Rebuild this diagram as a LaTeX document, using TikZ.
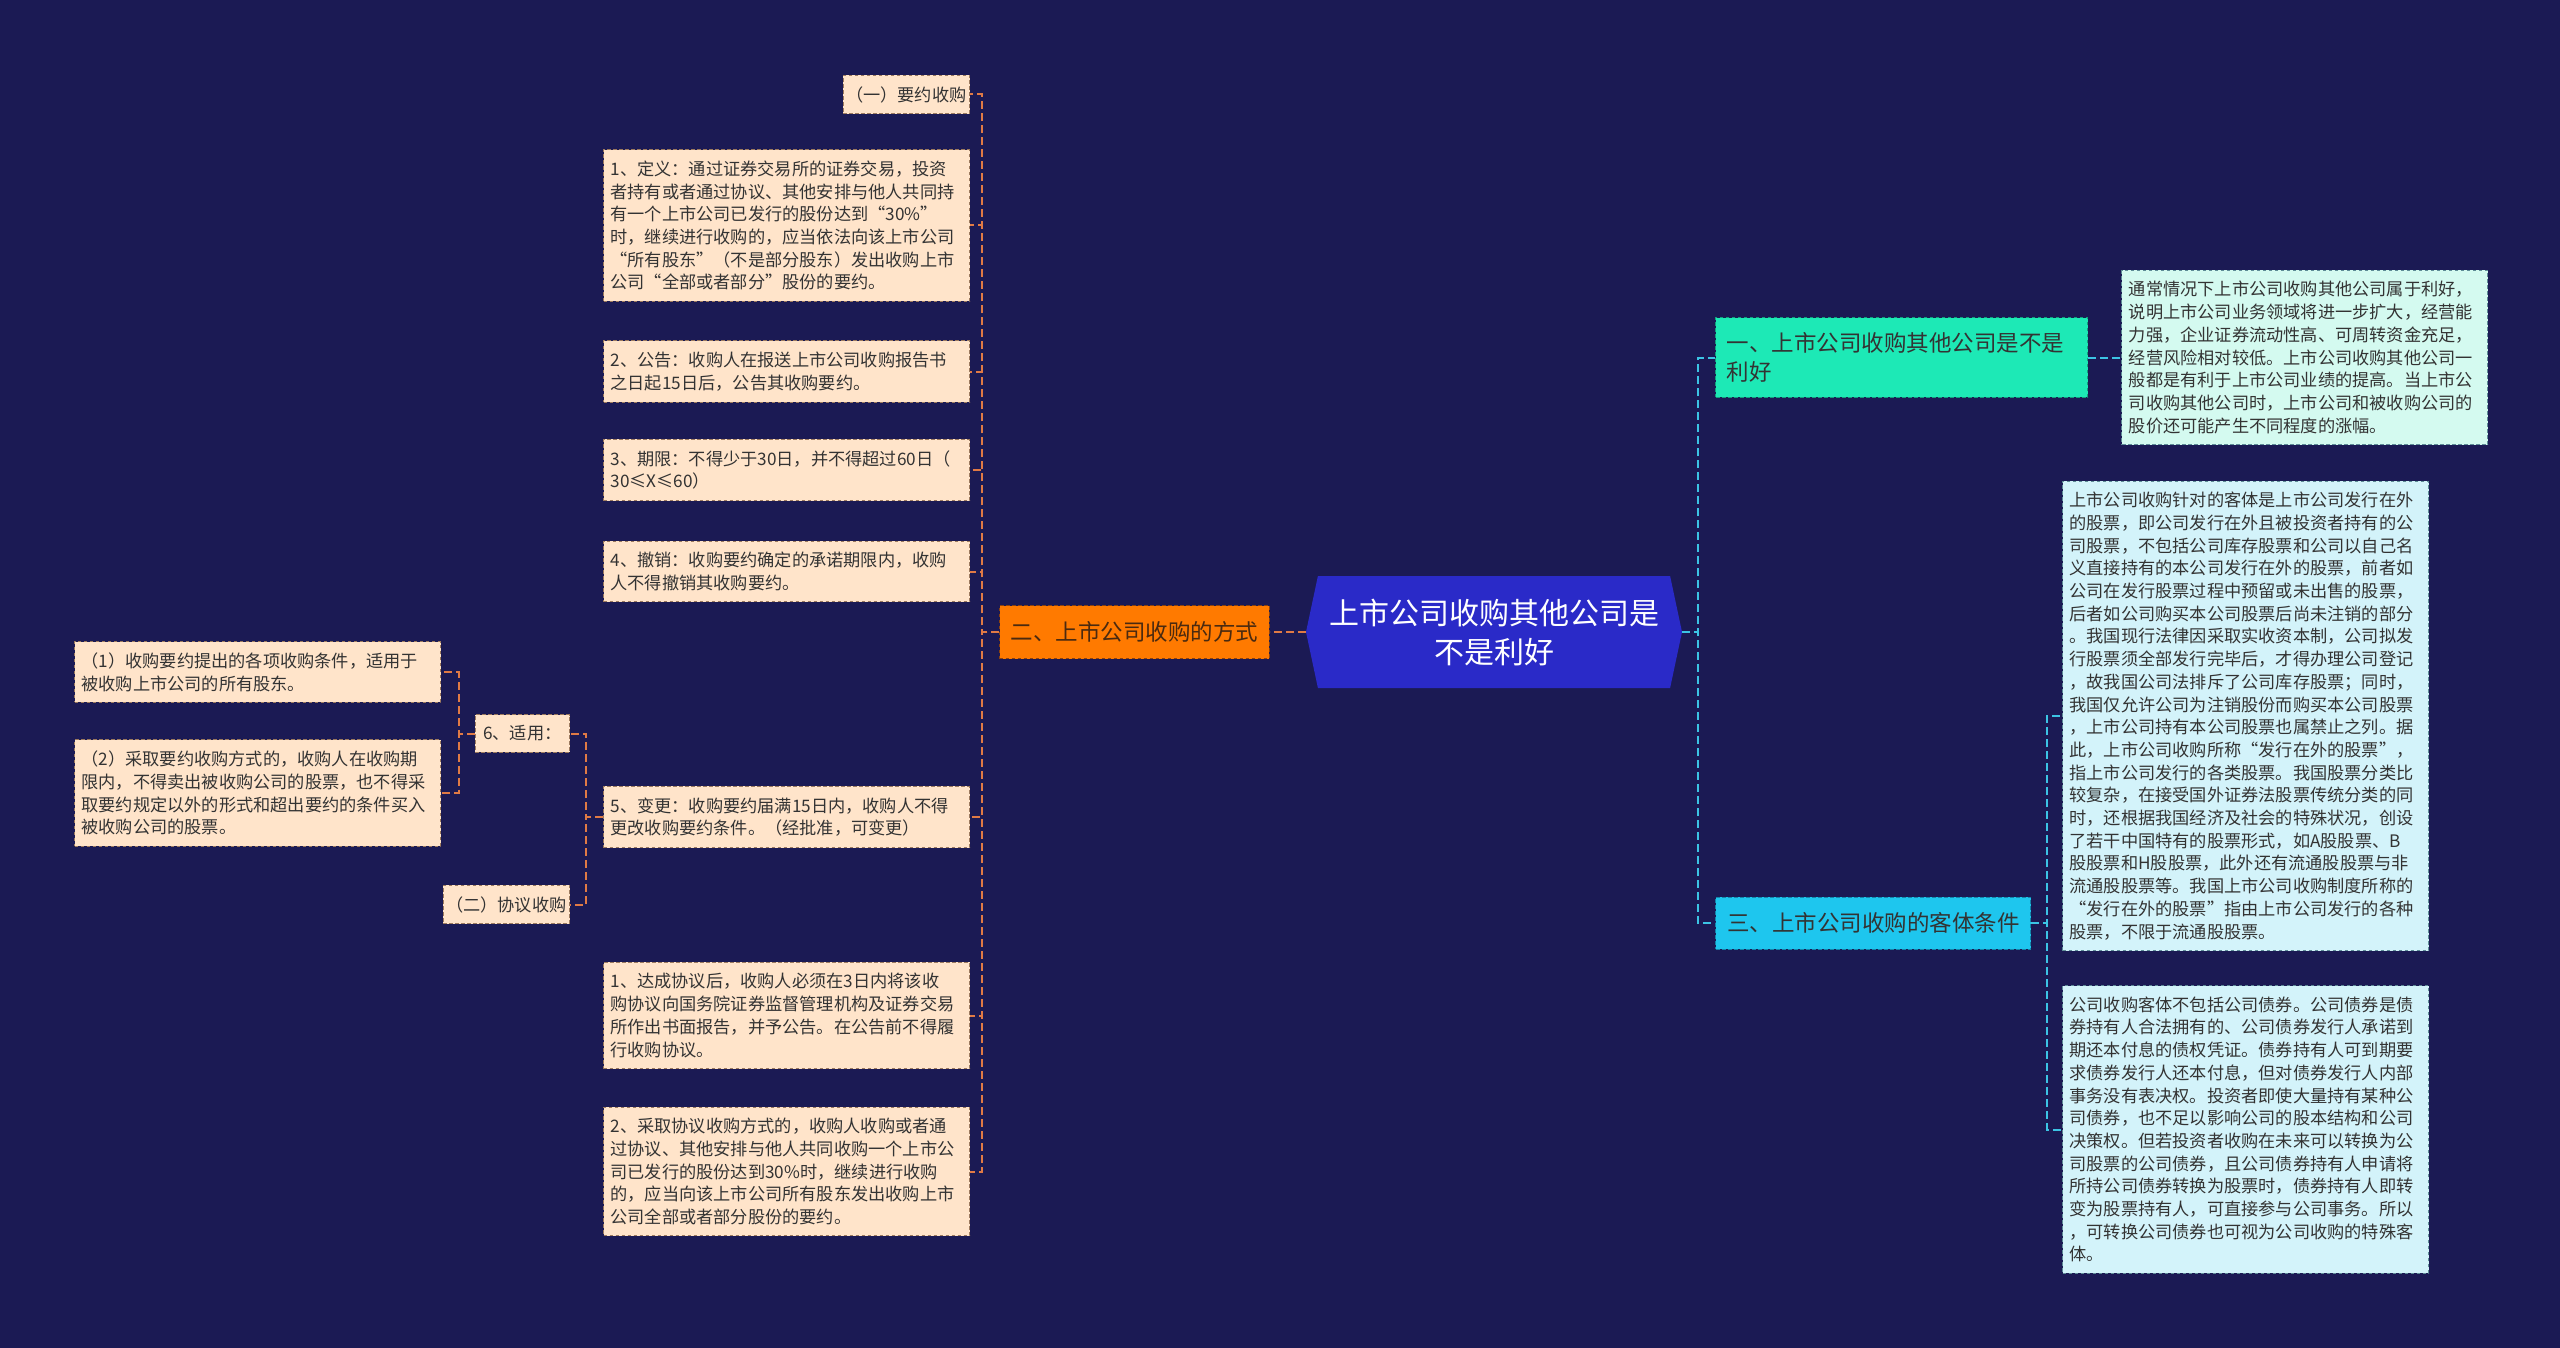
\documentclass[tikz,border=0pt]{standalone}
\usepackage{fontspec}
\setmainfont{Noto Sans CJK SC}
\usepackage{xcolor}
\usetikzlibrary{positioning,shapes.symbols}

\definecolor{navy}{HTML}{1B1A54}
\definecolor{rootblue}{HTML}{2A2AC8}
\definecolor{wayorange}{HTML}{FF7A00}
\definecolor{wayline}{HTML}{8A4210}
\definecolor{wayink}{HTML}{4A2A10}
\definecolor{peach}{HTML}{FFE4CA}
\definecolor{peachline}{HTML}{9C7A5E}
\definecolor{linkorange}{HTML}{E07A45}
\definecolor{mint}{HTML}{1DE9B6}
\definecolor{mintline}{HTML}{12A07C}
\definecolor{mintpale}{HTML}{D4FAF0}
\definecolor{sky}{HTML}{1EC6EE}
\definecolor{skyline}{HTML}{1485A8}
\definecolor{skypale}{HTML}{D3F3FA}
\definecolor{paleline}{HTML}{5E8C96}
\definecolor{linkcyan}{HTML}{3CC4E4}
\definecolor{inkgray}{HTML}{333333}

\begin{document}
\begin{tikzpicture}[
  x=0.5pt, y=-0.5pt,
  box/.style={draw, dash pattern=on 1.8pt off 1.2pt, line width=0.5pt, inner xsep=3.5pt, inner ysep=5.5pt, text=inkgray},
  small/.style={font=\fontsize{8.6pt}{11.35pt}\selectfont},
  leaf/.style={box, small, fill=peach, draw=peachline, align=left, text width=176pt},
  tag/.style={box, small, fill=peach, draw=peachline, inner xsep=4pt},
  ptag/.style={tag, inner xsep=1.5pt},
  mleaf/.style={leaf, fill=mintpale, draw=paleline},
  sleaf/.style={leaf, fill=skypale, draw=paleline},
  root/.style={signal, signal to=west and east, signal pointer angle=156, fill=rootblue, text=white,
    align=center, minimum width=188pt, minimum height=56pt, inner sep=2pt,
    font=\fontsize{15pt}{19.5pt}\selectfont},
  branch/.style={box, inner xsep=5.5pt, font=\fontsize{11.25pt}{14.5pt}\selectfont},
  olink/.style={draw=linkorange, line width=1pt, dash pattern=on 4pt off 2pt},
  clink/.style={draw=linkcyan, line width=1pt, dash pattern=on 4pt off 2pt},
]
\fill[navy] (0,0) rectangle (2560,1348);

\node[root] (root) at (1494,632) {上市公司收购其他公司是\\不是利好};

% left: ways of acquisition
\node[branch, fill=wayorange, draw=wayline, text=wayink, minimum width=133.5pt, minimum height=26.5pt, left=18pt of root] (way) {二、上市公司收购的方式};
\node[ptag, anchor=east] (y0) at (970,94.5) {（一）要约收购};
\node[leaf, anchor=east] (d1) at (970,225.5) {1、定义：通过证券交易所的证券交易，投资\\者持有或者通过协议、其他安排与他人共同持\\有一个上市公司已发行的股份达到“30\%”\\时，继续进行收购的，应当依法向该上市公司\\“所有股东”（不是部分股东）发出收购上市\\公司“全部或者部分”股份的要约。};
\node[leaf, anchor=east] (d2) at (970,371.5) {2、公告：收购人在报送上市公司收购报告书\\之日起15日后，公告其收购要约。};
\node[leaf, anchor=east] (d3) at (970,470) {3、期限：不得少于30日，并不得超过60日（\\30≤X≤60）};
\node[leaf, anchor=east] (d4) at (970,571.5) {4、撤销：收购要约确定的承诺期限内，收购\\人不得撤销其收购要约。};
\node[leaf, anchor=east] (d5) at (970,817) {5、变更：收购要约届满15日内，收购人不得\\更改收购要约条件。（经批准，可变更）};
\node[leaf, anchor=east] (a1) at (970,1015.5) {1、达成协议后，收购人必须在3日内将该收\\购协议向国务院证券监督管理机构及证券交易\\所作出书面报告，并予公告。在公告前不得履\\行收购协议。};
\node[leaf, anchor=east] (a2) at (970,1171.5) {2、采取协议收购方式的，收购人收购或者通\\过协议、其他安排与他人共同收购一个上市公\\司已发行的股份达到30\%时，继续进行收购\\的，应当向该上市公司所有股东发出收购上市\\公司全部或者部分股份的要约。};
\node[tag, anchor=east] (apply) at (570,733.5) {6、适用：};
\node[ptag, anchor=east] (y2) at (570,904.5) {（二）协议收购};
\node[leaf, anchor=east] (c1) at (441,672) {（1）收购要约提出的各项收购条件，适用于\\被收购上市公司的所有股东。};
\node[leaf, anchor=east] (c2) at (441,793) {（2）采取要约收购方式的，收购人在收购期\\限内，不得卖出被收购公司的股票，也不得采\\取要约规定以外的形式和超出要约的条件买入\\被收购公司的股票。};

% right: good news / objects
\node[branch, fill=mint, draw=mintline, align=left, text width=175pt, inner ysep=7.4pt, right=16.5pt of root, yshift=137.25pt] (one) {一、上市公司收购其他公司是不是\\利好};
\node[mleaf, right=16.5pt of one] (g1) {通常情况下上市公司收购其他公司属于利好，\\说明上市公司业务领域将进一步扩大，经营能\\力强，企业证券流动性高、可周转资金充足，\\经营风险相对较低。上市公司收购其他公司一\\般都是有利于上市公司业绩的提高。当上市公\\司收购其他公司时，上市公司和被收购公司的\\股价还可能产生不同程度的涨幅。};
\node[branch, fill=sky, draw=skyline, minimum width=157.5pt, minimum height=26pt, right=16.5pt of root, yshift=-145.5pt] (three) {三、上市公司收购的客体条件};
\node[sleaf, anchor=west] (t1) at (2062,716) {上市公司收购针对的客体是上市公司发行在外\\的股票，即公司发行在外且被投资者持有的公\\司股票，不包括公司库存股票和公司以自己名\\义直接持有的本公司发行在外的股票，前者如\\公司在发行股票过程中预留或未出售的股票，\\后者如公司购买本公司股票后尚未注销的部分\\。我国现行法律因采取实收资本制，公司拟发\\行股票须全部发行完毕后，才得办理公司登记\\，故我国公司法排斥了公司库存股票；同时，\\我国仅允许公司为注销股份而购买本公司股票\\，上市公司持有本公司股票也属禁止之列。据\\此，上市公司收购所称“发行在外的股票”，\\指上市公司发行的各类股票。我国股票分类比\\较复杂，在接受国外证券法股票传统分类的同\\时，还根据我国经济及社会的特殊状况，创设\\了若干中国特有的股票形式，如A股股票、B\\股股票和H股股票，此外还有流通股股票与非\\流通股股票等。我国上市公司收购制度所称的\\“发行在外的股票”指由上市公司发行的各种\\股票，不限于流通股股票。};
\node[sleaf, anchor=west] (t2) at (2062,1129.5) {公司收购客体不包括公司债券。公司债券是债\\券持有人合法拥有的、公司债券发行人承诺到\\期还本付息的债权凭证。债券持有人可到期要\\求债券发行人还本付息，但对债券发行人内部\\事务没有表决权。投资者即使大量持有某种公\\司债券，也不足以影响公司的股本结构和公司\\决策权。但若投资者收购在未来可以转换为公\\司股票的公司债券，且公司债券持有人申请将\\所持公司债券转换为股票时，债券持有人即转\\变为股票持有人，可直接参与公司事务。所以\\，可转换公司债券也可视为公司收购的特殊客\\体。};

% connectors
\draw[olink] (root.west) -- (way.east);
\foreach \n in {y0,d1,d2,d3,d4,d5,a1,a2}
  \draw[olink] (way.west) -- ++(-8.5pt,0) |- (\n.east);
\foreach \n in {apply,y2}
  \draw[olink] (d5.west) -- ++(-8.5pt,0) |- (\n.east);
\foreach \n in {c1,c2}
  \draw[olink] (apply.west) -- ++(-8pt,0) |- (\n.east);
\foreach \n in {one,three}
  \draw[clink] (root.east) -- ++(8pt,0) |- (\n.west);
\draw[clink] (one.east) -- (g1.west);
\foreach \n in {t1,t2}
  \draw[clink] (three.east) -- ++(8pt,0) |- (\n.west);
\end{tikzpicture}
\end{document}
